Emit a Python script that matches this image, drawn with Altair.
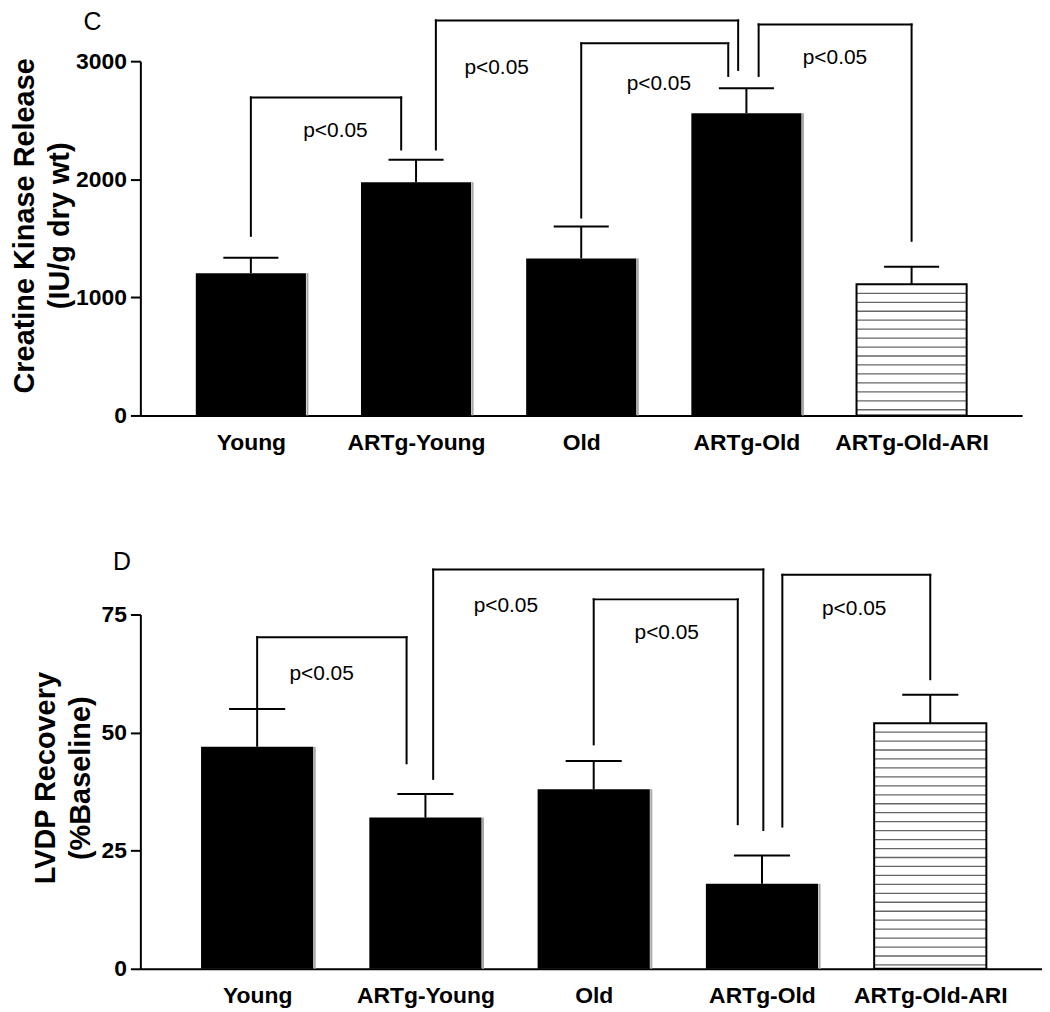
import json
import altair as alt
import pandas as pd

# ---------------- data ----------------
groups = ["Young", "ARTg-Young", "Old", "ARTg-Old", "ARTg-Old-ARI"]
hatched = [False, False, False, False, True]

# Panel C: Creatine kinase release (IU/g dry wt)
ck_mean = [1205, 1975, 1330, 2560, 1110]
ck_sem = [130, 190, 270, 210, 150]
ck_ticks = [0, 1000, 2000, 3000]

# significance brackets, panel C (x in group-index units)
ck_br_left = [0.0, 1.12, 2.0, 3.074]
ck_br_right = [0.91, 2.95, 2.89, 4.0]
ck_br_top = [2693, 3345, 3151, 3311]
ck_br_lfoot = [1521, 2252, 1676, 2875]
ck_br_rfoot = [2252, 2926, 2875, 1479]
ck_p_x = [0.512, 1.488, 2.47, 3.536]
ck_p_y = [2412, 2943, 2808, 3027]

# Panel D: LVDP recovery (% baseline)
lv_mean = [47, 32, 38, 18, 52]
lv_sem = [8, 5, 6, 6, 6]
lv_ticks = [0, 25, 50, 75]

lv_br_left = [0.0, 1.046, 2.0, 3.121]
lv_br_right = [0.888, 3.008, 2.856, 4.0]
lv_br_top = [70.2, 84.5, 78.2, 83.4]
lv_br_lfoot = [55.0, 40.2, 47.5, 30.1]
lv_br_rfoot = [43.5, 29.4, 30.6, 61.3]
lv_p_x = [0.383, 1.478, 2.434, 3.548]
lv_p_y = [62.3, 76.8, 71.1, 76.2]

p_label = "p<0.05"

FONT = "Liberation Sans"
LABEL_EXPR = json.dumps(groups) + "[datum.value]"


def make_panel(mean, sem, yticks, ydomain, xdomain, width, height,
               ytitle, title_x, title_y, letter, letter_x, letter_y,
               br_left, br_right, br_top, br_lfoot, br_rfoot, p_x, p_y,
               hatch_px=9.0):
    half = 1.0 / 3.0
    cap = 1.0 / 6.0
    bars = pd.DataFrame({
        "pos": list(range(len(groups))),
        "group": groups,
        "mean": mean,
        "err": [m + s for m, s in zip(mean, sem)],
        "hatched": hatched,
    })
    bars["x1"] = bars["pos"] - half
    bars["x2"] = bars["pos"] + half
    bars["c1"] = bars["pos"] - cap
    bars["c2"] = bars["pos"] + cap
    bars["zero"] = 0.0
    solid = bars[~bars["hatched"]]
    hatch = bars[bars["hatched"]]

    # hatch lines (style): every hatch_px pixels down from the bar top
    px_per_unit = height / (ydomain[1] - ydomain[0])
    step = hatch_px / px_per_unit
    hl = []
    for _, r in hatch.iterrows():
        k = 1
        while r["mean"] - k * step > 0:
            hl.append({"x1": r["x1"], "x2": r["x2"], "y": r["mean"] - k * step})
            k += 1
    hatch_lines = pd.DataFrame(hl)

    segs = []
    for L, R, T, lf, rf in zip(br_left, br_right, br_top, br_lfoot, br_rfoot):
        segs.append({"sx": L, "sx2": L, "sy": lf, "sy2": T})
        segs.append({"sx": L, "sx2": R, "sy": T, "sy2": T})
        segs.append({"sx": R, "sx2": R, "sy": rf, "sy2": T})
    segs = pd.DataFrame(segs)
    ptxt = pd.DataFrame({"px": p_x, "py": p_y, "t": [p_label] * len(p_x)})

    xscale = alt.Scale(domain=xdomain, nice=False, zero=False)
    yscale = alt.Scale(domain=ydomain, nice=False, zero=False)
    xaxis = alt.Axis(values=list(range(len(groups))), labelExpr=LABEL_EXPR,
                     title=None, ticks=False, tickSize=0, labelPadding=16,
                     grid=False, domainColor="black", domainWidth=2,
                     labelFont=FONT, labelFontSize=23, labelFontWeight="bold",
                     labelColor="black", labelFlush=False, labelOverlap=False)
    yaxis = alt.Axis(values=yticks, format="d", grid=False,
                     title=ytitle, titleX=title_x, titleY=title_y,
                     titleAngle=270, titleAlign="center",
                     titleBaseline="alphabetic", titleFont=FONT,
                     titleFontSize=29, titleFontWeight="bold",
                     titleLineHeight=35, titleColor="black",
                     tickSize=10, tickWidth=2, tickColor="black",
                     domainColor="black", domainWidth=2, labelPadding=4,
                     labelFont=FONT, labelFontSize=23, labelFontWeight="bold",
                     labelColor="black")

    def X(f):
        return alt.X(f"{f}:Q", scale=xscale, axis=xaxis)

    def Y(f):
        return alt.Y(f"{f}:Q", scale=yscale, axis=yaxis)

    shadow = alt.Chart(solid).mark_rule(color="#a8a8a8", strokeWidth=2, xOffset=1.5).encode(
        x=X("x2"), y=Y("zero"), y2="mean:Q")
    solid_bars = alt.Chart(solid).mark_rect(color="black").encode(
        x=X("x1"), x2="x2:Q", y=Y("mean"), y2="zero:Q")
    hatch_fill = alt.Chart(hatch).mark_rect(fill="white").encode(
        x=X("x1"), x2="x2:Q", y=Y("mean"), y2="zero:Q")
    hatch_rules = alt.Chart(hatch_lines).mark_rule(color="#666666", strokeWidth=1.3).encode(
        x=X("x1"), x2="x2:Q", y=Y("y"))
    hatch_outline = alt.Chart(hatch).mark_rect(fill="white", fillOpacity=0, stroke="black",
                                               strokeWidth=2).encode(
        x=X("x1"), x2="x2:Q", y=Y("mean"), y2="zero:Q")
    err_v = alt.Chart(bars).mark_rule(color="black", strokeWidth=2).encode(
        x=X("pos"), y=Y("mean"), y2="err:Q")
    err_cap = alt.Chart(bars).mark_rule(color="black", strokeWidth=2).encode(
        x=X("c1"), x2="c2:Q", y=Y("err"))
    brackets = alt.Chart(segs).mark_rule(color="black", strokeWidth=2, strokeCap="square").encode(
        x=X("sx"), x2="sx2:Q", y=Y("sy"), y2="sy2:Q")
    ptext = alt.Chart(ptxt).mark_text(font=FONT, fontSize=21, color="black",
                                      align="center", baseline="middle").encode(
        x=X("px"), y=Y("py"), text="t:N")
    letter_mark = alt.Chart(pd.DataFrame({"t": [letter]})).mark_text(
        font=FONT, fontSize=25, color="black", align="center", baseline="alphabetic").encode(
        x=alt.value(letter_x), y=alt.value(letter_y), text="t:N")

    return alt.layer(shadow, solid_bars, hatch_fill, hatch_rules, hatch_outline,
                     err_v, err_cap, brackets, ptext, letter_mark).properties(
        width=width, height=height)


panel_c = make_panel(ck_mean, ck_sem, ck_ticks, [0, 3000], [-0.669, 4.669], 886, 356,
                     ["Creatine Kinase Release", "(IU/g dry wt)"], -107, 165,
                     "C", -48, -31,
                     ck_br_left, ck_br_right, ck_br_top, ck_br_lfoot, ck_br_rfoot,
                     ck_p_x, ck_p_y)

panel_d = make_panel(lv_mean, lv_sem, lv_ticks, [0, 75], [-0.694, 4.664], 906, 356,
                     ["LVDP Recovery", "(%Baseline)"], -86, 164,
                     "D", -18.5, -45,
                     lv_br_left, lv_br_right, lv_br_top, lv_br_lfoot, lv_br_rfoot,
                     lv_p_x, lv_p_y)

chart = alt.vconcat(panel_c, panel_d, spacing=96).properties(
    padding={"left": 3, "top": 0, "right": 0, "bottom": 0}
).configure_view(strokeWidth=0)

chart.save("out.html", embed_options={"renderer": "svg", "actions": False})
